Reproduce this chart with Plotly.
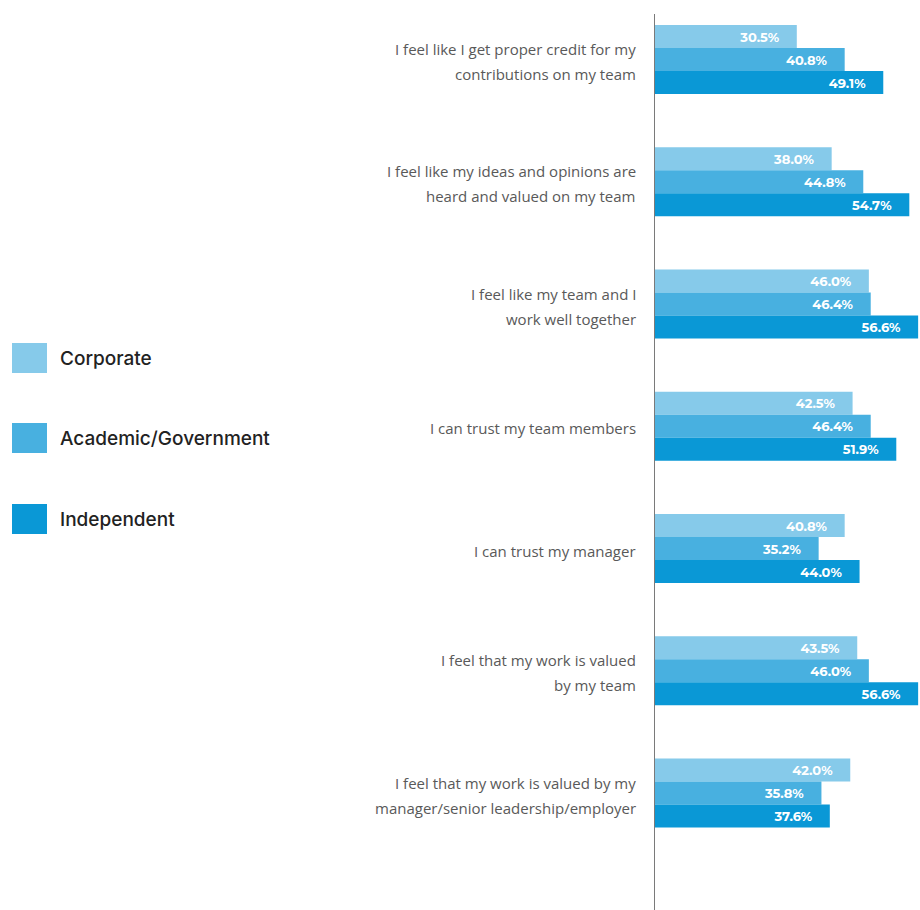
import plotly.graph_objects as go

categories = [
    "I feel like I get proper credit for my<br>contributions on my team",
    "I feel like my ideas and opinions are<br>heard and valued on my team",
    "I feel like my team and I<br>work well together",
    "I can trust my team members",
    "I can trust my manager",
    "I feel that my work is valued<br>by my team",
    "I feel that my work is valued by my<br>manager/senior leadership/employer",
]
series_names = ["Corporate", "Academic/Government", "Independent"]
corporate = [30.5, 38.0, 46.0, 42.5, 40.8, 43.5, 42.0]
academic = [40.8, 44.8, 46.4, 46.4, 35.2, 46.0, 35.8]
independent = [49.1, 54.7, 56.6, 51.9, 44.0, 56.6, 37.6]
series_values = [corporate, academic, independent]
colors = ["#86CAEA", "#48B0E0", "#0A98D6"]

W, H = 920, 910
L, T = 655, 14
plot_w = W - L
plot_h = H - T


def px_x(p):
    return (p - L) / plot_w


def px_y(p):
    return (H - p) / plot_h


fig = go.Figure()
for name, vals, col in zip(series_names, series_values, colors):
    fig.add_trace(go.Bar(
        y=categories, x=vals, orientation="h", name=name,
        marker=dict(color=col, line=dict(width=0)),
        text=[f"{v:.1f}%" + "\u00a0" * 4 for v in vals],
        textposition="inside", insidetextanchor="end",
        textfont=dict(family="Montserrat, Inter, sans-serif", size=13, color="white", weight="bold"),
        cliponaxis=True,
        showlegend=False,
        hoverinfo="skip",
    ))

annotations = []
for c in categories:
    lines = c.split("<br>")
    n = len(lines)
    for i, ln in enumerate(lines):
        annotations.append(dict(
            x=0, xref="paper", y=c, yref="y", text=ln, showarrow=False,
            xanchor="right", yanchor="middle", xshift=-17,
            yshift=-((i - (n - 1) / 2) * 25) - 2,
            font=dict(family="Open Sans, sans-serif", size=15, color="#595959"),
        ))

shapes = []
legend_centers = [358, 438, 519]
for name, col, cy in zip(series_names, colors, legend_centers):
    shapes.append(dict(type="rect", xref="paper", yref="paper",
                       x0=px_x(12), x1=px_x(47), y0=px_y(cy + 15), y1=px_y(cy - 15),
                       fillcolor=col, line=dict(width=0)))
    annotations.append(dict(x=px_x(58), xref="paper", y=px_y(cy), yref="paper",
                            text=name, showarrow=False, xanchor="left", yanchor="middle",
                            font=dict(family="Inter, sans-serif", size=19, color="#222222", weight=500)))

fig.update_layout(
    width=W, height=H,
    margin=dict(l=L, r=0, t=T, b=0),
    plot_bgcolor="white", paper_bgcolor="white",
    barmode="group", bargap=0.4356, bargroupgap=0,
    xaxis=dict(range=[0, 57], showgrid=False, showticklabels=False, zeroline=False, showline=False),
    yaxis=dict(range=[6.957, -0.3726], showgrid=False, showticklabels=False, ticks="",
               showline=True, linecolor="#7a7a7a", linewidth=1, zeroline=False),
    annotations=annotations, shapes=shapes,
    uniformtext=dict(mode=False),
)
fig.write_html(
    "out.html",
    config={"displayModeBar": False},
    post_script="document.body.style.margin='0';document.body.style.overflow='hidden';",
)
